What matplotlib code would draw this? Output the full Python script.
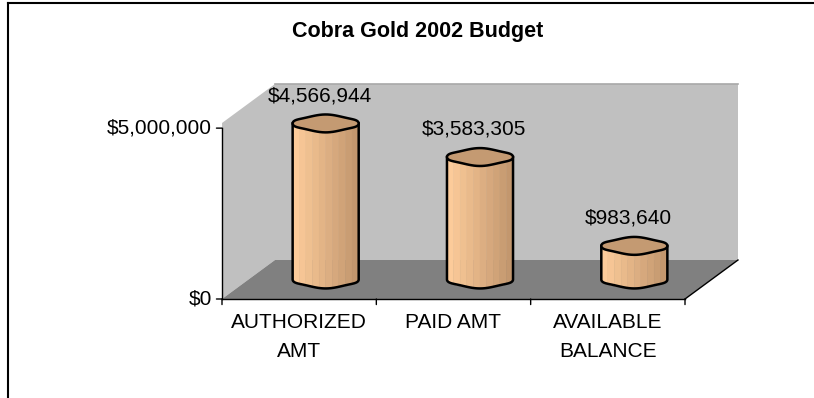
import numpy as np
import matplotlib
matplotlib.use("Agg")
import matplotlib.pyplot as plt
from matplotlib.patches import Polygon
from matplotlib.lines import Line2D

plt.rcParams['font.family'] = ['Liberation Sans', 'DejaVu Sans']

# budget figures
categories = ["AUTHORIZED\nAMT", "PAID AMT", "AVAILABLE\nBALANCE"]
amounts = [4566944, 3583305, 983640]
value_labels = ["$4,566,944", "$3,583,305", "$983,640"]
yticks = [0, 5000000]
ytick_labels = ["$0", "$5,000,000"]
title = "Cobra Gold 2002 Budget"

W, H = 814, 398
fig = plt.figure(figsize=(W / 100, H / 100), dpi=100)
fig.patch.set_facecolor('white')

# front plane of the 3d box
ax = fig.add_axes([222 / W, 99 / H, 463 / W, 176 / H])
ax.set_xlim(-0.5, 2.5)
ymax = 5150000
ax.set_ylim(0, ymax)
ax.axis('off')

# oblique depth offset in data units (about 53px right, 39px up)
DX = 53 / (463 / 3)
DY = 39 / 176 * ymax


def proj(x, y, d):
    return (x + d * DX, y + d * DY)


wall = '#c0c0c0'
floor = '#808080'

back = [proj(-0.5, 0, 1), proj(2.5, 0, 1), proj(2.5, ymax, 1), proj(-0.5, ymax, 1)]
ax.add_patch(Polygon(back, closed=True, fc=wall, ec='none', zorder=1, clip_on=False))
ax.plot([back[3][0], back[2][0]], [back[3][1], back[2][1]], color='#a8a8a8', lw=1.2,
        zorder=1.5, clip_on=False)

side = [proj(-0.5, 0, 0), proj(-0.5, 0, 1), proj(-0.5, ymax, 1), proj(-0.5, ymax, 0)]
ax.add_patch(Polygon(side, closed=True, fc=wall, ec='none', zorder=1, clip_on=False))

flr = [proj(-0.5, 0, 0), proj(2.5, 0, 0), proj(2.5, 0, 1), proj(-0.5, 0, 1)]
ax.add_patch(Polygon(flr, closed=True, fc=floor, ec='none', zorder=2, clip_on=False))
ax.plot([flr[1][0], flr[2][0]], [flr[1][1], flr[2][1]], color='black', lw=1,
        zorder=2.5, clip_on=False)

# cylinders
a = 0.214                 # half width in category units
b = 8 / 176 * ymax        # half height of the end ellipses
light = np.array([255, 206, 156]) / 255
dark = np.array([192, 148, 108]) / 255
top_col = '#c49a72'
nb = 10

for i, v in enumerate(amounts):
    xc, yb = proj(i, 0, 0.5)
    yt = yb + v
    edges = np.linspace(xc - a, xc + a, nb + 1)
    for k in range(nb):
        xs = np.linspace(edges[k], edges[k + 1], 6)
        ys = yb - b * np.sqrt(np.clip(1 - ((xs - xc) / a) ** 2, 0, 1))
        pts = list(zip(xs, ys)) + [(edges[k + 1], yt), (edges[k], yt)]
        t = (k + 0.5) / nb
        col = light * (1 - t) + dark * t
        ax.add_patch(Polygon(pts, closed=True, fc=col, ec=col, lw=0.3,
                             zorder=3, clip_on=False))
    th = np.linspace(np.pi, 2 * np.pi, 60)
    wob = 1 + 0.12 * np.cos(4 * th)
    ox = np.concatenate([[xc - a], xc + a * np.cos(th), [xc + a]])
    oy = np.concatenate([[yt], yb + b * np.sin(th) * wob, [yt]])
    ax.plot(ox, oy, color='black', lw=1.8, zorder=4, clip_on=False,
            solid_joinstyle='round')
    th = np.linspace(0, 2 * np.pi, 80)
    wob = 1 + 0.12 * np.cos(4 * th)
    tx = xc + a * np.cos(th)
    ty = yt + b * np.sin(th) * wob
    ax.add_patch(Polygon(list(zip(tx, ty)), closed=True, fc=top_col, ec='black',
                         lw=1.8, zorder=5, clip_on=False))
    ax.annotate(value_labels[i], (xc - 0.04, yt), xytext=(0, 20),
                textcoords='offset points', ha='center', va='center',
                fontsize=15, zorder=6, annotation_clip=False)

# axes lines and ticks
ax.plot([-0.5, -0.5], [0, yticks[-1]], color='black', lw=1, zorder=6, clip_on=False)
ax.plot([-0.5, 2.5], [0, 0], color='black', lw=1, zorder=6, clip_on=False)
for val, lab in zip(yticks, ytick_labels):
    ax.annotate('', (-0.5, val), xytext=(-4, 0), textcoords='offset points',
                arrowprops=dict(arrowstyle='-', color='black', lw=1,
                                shrinkA=0, shrinkB=0), annotation_clip=False)
    ax.annotate(lab, (-0.5, val), xytext=(-7, 0), textcoords='offset points',
                ha='right', va='center', fontsize=15, annotation_clip=False)
for xb in np.arange(-0.5, 3, 1):
    ax.annotate('', (xb, 0), xytext=(0, -4), textcoords='offset points',
                arrowprops=dict(arrowstyle='-', color='black', lw=1,
                                shrinkA=0, shrinkB=0), annotation_clip=False)
for i, lab in enumerate(categories):
    ax.annotate(lab, (i, 0), xytext=(0, -10), textcoords='offset points',
                ha='center', va='top', fontsize=15, linespacing=1.7,
                annotation_clip=False)

fig.text(418 / W, 1 - 32 / H, title, ha='center', va='center',
         fontsize=15.5, fontweight='bold')

# chart frame, open on the right and bottom
fig.add_artist(Line2D([8 / W, 1], [1 - 3 / H, 1 - 3 / H], transform=fig.transFigure,
                      color='black', lw=1.5))
fig.add_artist(Line2D([8 / W, 8 / W], [0, 1 - 3 / H], transform=fig.transFigure,
                      color='black', lw=1.5))

fig.savefig('out.png', dpi=100)
